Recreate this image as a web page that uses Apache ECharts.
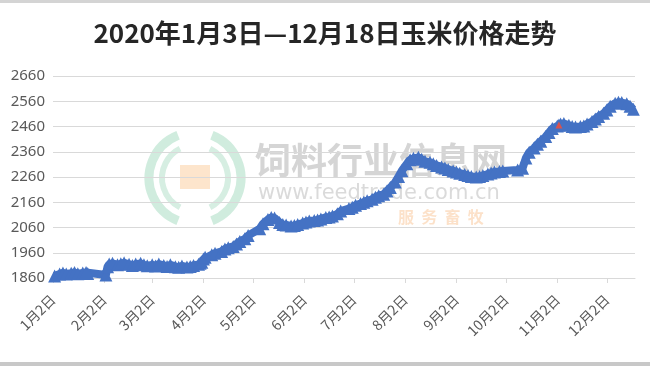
<html>

<head>
    <script src="https://cdn.jsdelivr.net/npm/echarts@6.0.0/dist/echarts.min.js"></script>

    <style>
        body {
            margin: 0
        }
        #chart {
            width: 650px;
            height: 366px;
        }
    </style>
</head>

<body>
    <div id="chart"></div>

    <script>
        const janDays = [3, 6, 8, 10, 13, 15, 17, 20, 22, 23];
        const janPrice = [1868, 1876, 1880, 1876, 1879, 1882, 1877, 1880, 1882, 1878];
        const febDays = [3, 4, 5, 7, 10, 12, 14, 17, 19, 21, 24, 26, 28];
        const febPrice = [1872, 1905, 1915, 1918, 1912, 1916, 1920, 1914, 1910, 1915, 1918, 1912, 1909];
        const marDays = [2, 4, 6, 9, 11, 13, 16, 18, 20, 23, 25, 27, 30, 31];
        const marPrice = [1912, 1908, 1915, 1910, 1906, 1912, 1905, 1903, 1908, 1904, 1906, 1910, 1914, 1918];
        const aprDays = [1, 2, 3, 7, 9, 13, 15, 17, 20, 22, 24, 27, 29];
        const aprPrice = [1922, 1935, 1942, 1952, 1958, 1965, 1975, 1980, 1985, 1995, 2005, 2015, 2028];
        const mayDays = [6, 8, 11, 13, 15, 18, 20, 22, 25, 27, 29];
        const mayPrice = [2055, 2075, 2092, 2100, 2098, 2080, 2072, 2070, 2066, 2068, 2072];
        const junDays = [1, 3, 5, 8, 10, 12, 15, 17, 19, 22, 24, 29];
        const junPrice = [2078, 2082, 2086, 2088, 2090, 2094, 2100, 2102, 2106, 2114, 2125, 2135];
        const julDays = [1, 3, 6, 8, 10, 13, 15, 17, 20, 22, 24, 27, 29, 31];
        const julPrice = [2140, 2148, 2155, 2160, 2166, 2172, 2180, 2186, 2192, 2205, 2218, 2240, 2262, 2285];
        const augDays = [3, 5, 7, 10, 12, 14, 17, 19, 21, 24, 26, 28, 31];
        const augPrice = [2312, 2328, 2334, 2338, 2330, 2322, 2318, 2312, 2306, 2300, 2296, 2290, 2284];
        const sepDays = [2, 4, 7, 9, 11, 14, 16, 18, 21, 23, 25, 28, 30];
        const sepPrice = [2280, 2275, 2270, 2266, 2262, 2260, 2262, 2266, 2272, 2276, 2280, 2282, 2284];
        const octDays = [9, 12, 14, 16, 19, 21, 23, 26, 28, 30];
        const octPrice = [2288, 2295, 2335, 2358, 2375, 2390, 2402, 2420, 2436, 2452];
        const novDays = [2, 3, 4, 6, 9, 11, 13, 16, 18, 20, 23, 25, 27, 30];
        const novPrice = [2462, 2466, 2470, 2472, 2465, 2460, 2458, 2460, 2462, 2470, 2480, 2490, 2500, 2512];
        const decDays = [2, 4, 7, 9, 11, 14, 16, 18];
        const decPrice = [2525, 2540, 2552, 2556, 2555, 2550, 2540, 2528];

        // the single red marker
        const redPoint = [10, 3, 2466];   // month index, day, price

        const tickMonths = [0, 1, 2, 3, 4, 5, 6, 7, 8, 9, 10, 11];
        const tickDay = 2;

        const months = [
            [janDays, janPrice], [febDays, febPrice], [marDays, marPrice], [aprDays, aprPrice],
            [mayDays, mayPrice], [junDays, junPrice], [julDays, julPrice], [augDays, augPrice],
            [sepDays, sepPrice], [octDays, octPrice], [novDays, novPrice], [decDays, decPrice]
        ];

        // x is the day of year (Jan 1 = 0)
        const DAY = 86400000;
        const day = (m, d) => Math.round((Date.UTC(2020, m, d) - Date.UTC(2020, 0, 1)) / DAY);

        const priceData = [];
        months.forEach(([days, prices], m) => {
            days.forEach((d, i) => priceData.push([day(m, d), prices[i]]));
        });

        const tickValues = tickMonths.map(m => day(m, tickDay));

        const chart = echarts.init(document.getElementById('chart'));

        const option = {
            animation: false,
            title: {
                text: '2020年1月3日—12月18日玉米价格走势',
                left: 'center',
                top: 15,
                textStyle: {
                    fontFamily: 'Noto Sans CJK SC',
                    fontSize: 26,
                    fontWeight: 'bold',
                    color: '#262626'
                }
            },
            grid: {
                left: 53,
                right: 15,
                top: 76,
                bottom: 88
            },
            graphic: [
                { type: 'rect', shape: { x: 0, y: 0, width: 650, height: 3 }, style: { fill: '#d4d4d4' }, z: 0 },
                { type: 'rect', shape: { x: 0, y: 362, width: 650, height: 4 }, style: { fill: '#c8c8c8' }, z: 0 },
                // faint watermark
                { type: 'arc', shape: { cx: 195, cy: 178, r: 46, startAngle: Math.PI * 0.62, endAngle: Math.PI * 1.38 }, style: { stroke: 'rgba(120,200,160,0.35)', lineWidth: 9, fill: null }, z: 0 },
                { type: 'arc', shape: { cx: 195, cy: 178, r: 33, startAngle: Math.PI * 0.65, endAngle: Math.PI * 1.35 }, style: { stroke: 'rgba(120,200,160,0.3)', lineWidth: 6, fill: null }, z: 0 },
                { type: 'arc', shape: { cx: 195, cy: 178, r: 46, startAngle: -Math.PI * 0.38, endAngle: Math.PI * 0.38 }, style: { stroke: 'rgba(120,200,160,0.35)', lineWidth: 9, fill: null }, z: 0 },
                { type: 'arc', shape: { cx: 195, cy: 178, r: 33, startAngle: -Math.PI * 0.35, endAngle: Math.PI * 0.35 }, style: { stroke: 'rgba(120,200,160,0.3)', lineWidth: 6, fill: null }, z: 0 },
                { type: 'rect', shape: { x: 180, y: 165, width: 30, height: 24 }, style: { fill: 'rgba(250,180,110,0.35)' }, z: 0 },
                { type: 'text', left: 255, top: 142, style: { text: '饲料行业信息网', font: 'bold 36px "Noto Sans CJK SC"', fill: 'rgba(150,150,150,0.4)' }, z: 0 },
                { type: 'text', left: 258, top: 183, style: { text: 'www.feedtrade.com.cn', font: '21px "DejaVu Sans"', fill: 'rgba(150,150,150,0.35)' }, z: 0 },
                { type: 'text', left: 398, top: 209, style: { text: '服  务  畜  牧', font: 'bold 16px "Noto Sans CJK SC"', fill: 'rgba(245,170,100,0.35)' }, z: 0 }
            ],
            xAxis: {
                type: 'value',
                min: day(0, 2),
                max: day(11, 19),
                axisLine: {
                    lineStyle: { color: '#d9d9d9', width: 1 }
                },
                axisTick: {
                    show: true,
                    customValues: tickValues,
                    length: 5,
                    lineStyle: { color: '#d9d9d9' }
                },
                splitLine: { show: false },
                axisLabel: {
                    customValues: tickValues,
                    rotate: 45,
                    margin: 19,
                    fontFamily: 'Noto Sans CJK SC',
                    fontSize: 14,
                    color: '#595959',
                    formatter: (value) => {
                        const d = new Date(Date.UTC(2020, 0, 1) + value * DAY);
                        return `${d.getUTCMonth() + 1}月${d.getUTCDate()}日`;
                    }
                }
            },
            yAxis: {
                type: 'value',
                min: 1860,
                max: 2660,
                interval: 100,
                axisLine: { show: false },
                axisTick: { show: false },
                splitLine: {
                    lineStyle: { color: '#d9d9d9', width: 1 }
                },
                axisLabel: {
                    margin: 8,
                    fontFamily: 'Noto Sans',
                    fontSize: 15,
                    color: '#595959',
                    formatter: (v) => String(v)
                }
            },
            series: [
                {
                    type: 'line',
                    data: priceData,
                    symbol: 'triangle',
                    symbolSize: 13,
                    showAllSymbol: true,
                    lineStyle: { color: '#4472c4', width: 8 },
                    itemStyle: { color: '#4472c4' },
                    z: 3
                },
                {
                    type: 'line',
                    data: [[day(redPoint[0], redPoint[1]), redPoint[2]]],
                    symbol: 'triangle',
                    symbolSize: 7,
                    itemStyle: { color: '#d9534f' },
                    z: 4
                }
            ]
        };

        chart.setOption(option);
    </script>
</body>

</html>
